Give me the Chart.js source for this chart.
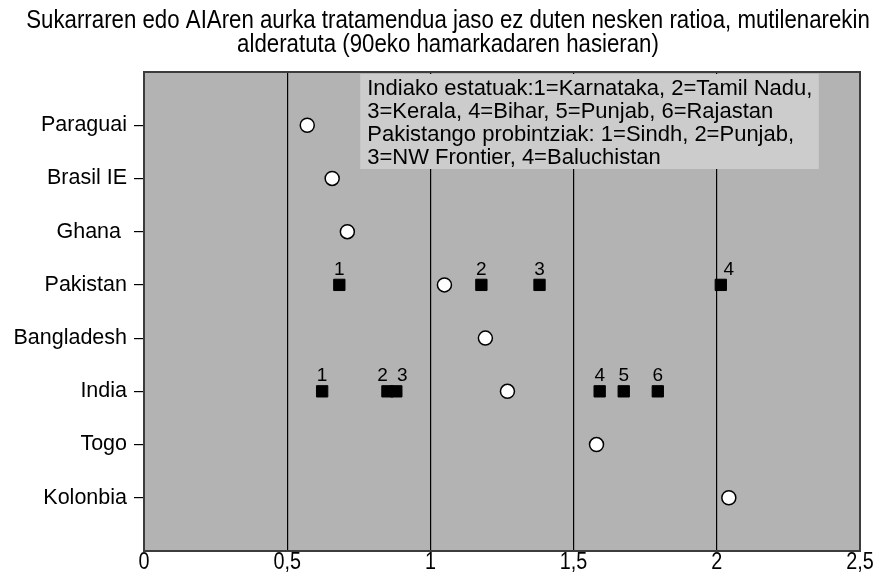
<!DOCTYPE html>
<html>
<head>
<meta charset="utf-8">
<script src="https://cdn.jsdelivr.net/npm/chart.js@4"></script>
<style>
  html, body { margin: 0; padding: 0; background: #ffffff; }
  #wrap { width: 881px; height: 573px; position: relative; }
</style>
</head>
<body>
<div id="wrap"><canvas id="c" width="881" height="573"></canvas></div>
<script>
// ---- data ----
const titleLines = [
  'Sukarraren edo AIAren aurka tratamendua jaso ez duten nesken ratioa, mutilenarekin',
  'alderatuta (90eko hamarkadaren hasieran)'
];
const categories = ['Paraguai', 'Brasil IE', 'Ghana ', 'Pakistan', 'Bangladesh', 'India', 'Togo', 'Kolonbia'];
const countryRatio = [0.570, 0.657, 0.710, 1.049, 1.192, 1.269, 1.580, 2.042];
const pakistanRow = 'Pakistan';
const pakistanProvinces = ['1', '2', '3', '4'];
const pakistanRatio = [0.682, 1.178, 1.381, 2.014];
const indiaRow = 'India';
const indiaStates = ['1', '2', '3', '4', '5', '6'];
const indiaRatio = [0.622, 0.850, 0.881, 1.591, 1.675, 1.794];
const xTicks = [0, 0.5, 1, 1.5, 2, 2.5];
const noteLines = [
  'Indiako estatuak:1=Karnataka, 2=Tamil Nadu,',
  '3=Kerala, 4=Bihar, 5=Punjab, 6=Rajastan',
  'Pakistango probintziak: 1=Sindh, 2=Punjab,',
  '3=NW Frontier, 4=Baluchistan'
];

// ---- styling (not data) ----
const pakLabelDx = [0, 0, 0, 8];
const indLabelDx = [0, -5, 6, 0, 0, 0];
const SANS = '"Liberation Sans", Arial, sans-serif';

const rowOf = name => categories.indexOf(name) + 1;

const countryPts = countryRatio.map((v, i) => ({ x: v, y: i + 1 }));
const pakPts = pakistanRatio.map((v, i) => ({ x: v, y: rowOf(pakistanRow), lab: pakistanProvinces[i], dx: pakLabelDx[i] }));
const indPts = indiaRatio.map((v, i) => ({ x: v, y: rowOf(indiaRow), lab: indiaStates[i], dx: indLabelDx[i] }));

function narrowText(ctx, text, cx, cy, size, sx) {
  ctx.save();
  ctx.translate(cx, cy);
  ctx.scale(sx, 1);
  ctx.font = size + 'px ' + SANS;
  ctx.textAlign = 'center';
  ctx.textBaseline = 'middle';
  ctx.fillText(text, 0, 0);
  ctx.restore();
}

const decorPlugin = {
  id: 'decor',
  beforeDraw(chart) {
    const { ctx, chartArea: a } = chart;
    ctx.save();
    ctx.fillStyle = '#b3b3b3';
    ctx.fillRect(a.left, a.top, a.right - a.left, a.bottom - a.top);
    ctx.restore();
  },
  beforeDatasetsDraw(chart) {
    const { ctx, chartArea: a, scales } = chart;
    ctx.save();
    // note box
    const bx = scales.x.getPixelForValue(0.755);
    const bx2 = scales.x.getPixelForValue(2.356);
    const by = a.top + 2;
    const bh = 95;
    ctx.fillStyle = '#cccccc';
    ctx.fillRect(bx, by, bx2 - bx, bh);
    ctx.fillStyle = '#000000';
    ctx.font = '22px ' + SANS;
    ctx.textAlign = 'left';
    ctx.textBaseline = 'alphabetic';
    noteLines.forEach((t, i) => ctx.fillText(t, bx + 7, by + 21 + i * 23));
    // frame
    ctx.strokeStyle = '#3c3c3c';
    ctx.lineWidth = 2;
    ctx.strokeRect(a.left, a.top, a.right - a.left, a.bottom - a.top);
    ctx.restore();
  },
  afterDatasetsDraw(chart) {
    const { ctx, scales, chartArea: a } = chart;
    ctx.save();
    ctx.fillStyle = '#000000';
    ctx.font = '19px ' + SANS;
    ctx.textAlign = 'center';
    ctx.textBaseline = 'alphabetic';
    [pakPts, indPts].forEach(arr => arr.forEach(p => {
      const px = scales.x.getPixelForValue(p.x);
      const py = scales.y.getPixelForValue(p.y);
      ctx.fillText(p.lab, px + p.dx, py - 10);
    }));
    // x tick labels (narrow face)
    xTicks.forEach(v => {
      narrowText(ctx, String(v).replace('.', ','), scales.x.getPixelForValue(v), a.bottom + 12, 23, 0.86);
    });
    ctx.restore();
  },
  afterDraw(chart) {
    const { ctx } = chart;
    ctx.save();
    ctx.fillStyle = '#000000';
    titleLines.forEach((t, i) => narrowText(ctx, t, 448, 21 + i * 24, 25, 0.89));
    ctx.restore();
  }
};

new Chart(document.getElementById('c'), {
  type: 'scatter',
  data: {
    datasets: [
      { label: 'Herrialdeak', data: countryPts, pointStyle: 'circle', pointRadius: 7, pointHoverRadius: 7,
        backgroundColor: '#ffffff', borderColor: '#000000', borderWidth: 1.5 },
      { label: 'Pakistan', data: pakPts, pointStyle: 'rect', pointRadius: 8, pointHoverRadius: 8,
        backgroundColor: '#000000', borderColor: '#000000', borderWidth: 1 },
      { label: 'India', data: indPts, pointStyle: 'rect', pointRadius: 8, pointHoverRadius: 8,
        backgroundColor: '#000000', borderColor: '#000000', borderWidth: 1 }
    ]
  },
  options: {
    responsive: false,
    animation: false,
    events: [],
    layout: { padding: { left: 0, right: 21, top: 72, bottom: 0 } },
    plugins: { legend: { display: false }, tooltip: { enabled: false }, title: { display: false } },
    scales: {
      x: {
        type: 'linear', min: 0, max: 2.5,
        afterBuildTicks: s => { s.ticks = xTicks.map(v => ({ value: v })); },
        afterFit: s => { s.height = 22; },
        border: { display: false },
        grid: {
          color: c => (c.tick && c.tick.value > 0 && c.tick.value < 2.5) ? '#000000' : 'rgba(0,0,0,0)',
          lineWidth: 1.2, drawTicks: false
        },
        ticks: { display: false }
      },
      y: {
        type: 'linear', min: 0, max: 9, reverse: true,
        afterBuildTicks: s => { s.ticks = categories.map((_, i) => ({ value: i + 1 })); },
        afterFit: s => { s.width = 144; },
        border: { display: false },
        grid: { drawOnChartArea: false, drawTicks: true, tickLength: 10, color: '#000000', lineWidth: 1.2 },
        ticks: {
          color: '#000000', padding: 7, autoSkip: false,
          font: { family: SANS, size: 21.5 },
          callback: v => categories[v - 1] || ''
        }
      }
    }
  },
  plugins: [decorPlugin]
});
</script>
</body>
</html>
